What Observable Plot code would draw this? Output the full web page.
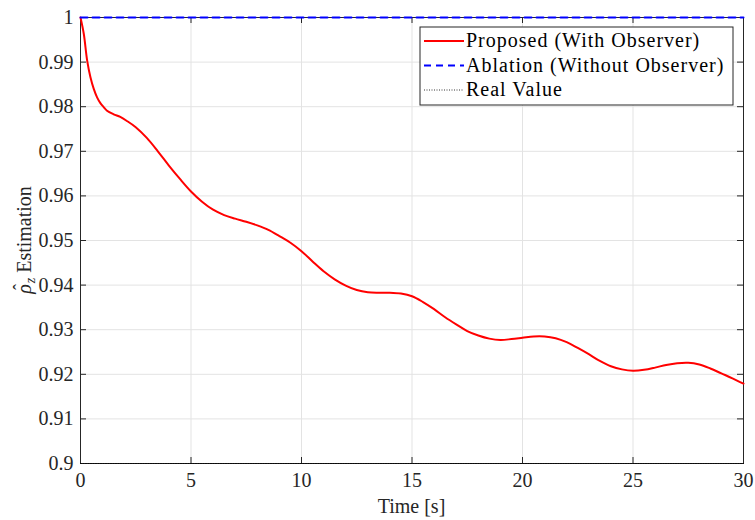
<!DOCTYPE html>
<html>
<head>
<meta charset="utf-8">
<script src="https://cdn.jsdelivr.net/npm/d3@7"></script>
<script src="https://cdn.jsdelivr.net/npm/@observablehq/plot@0.6"></script>
<style>
  html, body { margin: 0; padding: 0; background: #fff; }
  #chart { position: relative; width: 755px; height: 520px; }
</style>
</head>
<body>
<div id="chart"></div>
<script>
// ---- data ----
const time = [0, 0.15, 0.3, 0.45, 0.6, 0.75, 0.9, 1.05, 1.2, 1.5, 1.8, 2.1, 2.5, 3, 3.5, 4, 4.5, 5, 5.5, 6, 6.5, 7, 7.5, 8, 8.5, 9, 9.5, 10, 10.5, 11, 11.5, 12, 12.5, 13, 13.5, 14, 14.5, 15, 15.5, 16, 16.5, 17, 17.5, 18, 18.5, 19, 19.5, 20, 20.5, 21, 21.5, 22, 22.5, 23, 23.5, 24, 24.5, 25, 25.5, 26, 26.5, 27, 27.5, 28, 28.5, 29, 29.5, 30];
const proposed = [1.0, 0.9963, 0.9904, 0.9866, 0.9840, 0.9821, 0.9808, 0.9799, 0.9791, 0.9783, 0.9777, 0.9768, 0.9754, 0.9730, 0.9700, 0.9668, 0.9638, 0.9610, 0.9587, 0.9569, 0.9557, 0.9549, 0.9542, 0.9534, 0.9524, 0.9510, 0.9495, 0.9476, 0.9453, 0.9431, 0.9413, 0.9399, 0.9389, 0.9384, 0.9383, 0.9383, 0.9381, 0.9375, 0.9362, 0.9346, 0.9328, 0.9312, 0.9297, 0.9287, 0.9280, 0.9277, 0.9279, 0.9282, 0.9285, 0.9285, 0.9281, 0.9272, 0.9259, 0.9245, 0.9230, 0.9218, 0.9211, 0.9208, 0.9210, 0.9215, 0.9221, 0.9225, 0.9226, 0.9222, 0.9213, 0.9202, 0.9191, 0.9179];
const ablationTime = [0, 30];
const ablation = [1.0, 1.0];
const realTime = [0, 30];
const realValue = [0.9, 0.9];
const xTicks = [0, 5, 10, 15, 20, 25, 30];
const xTickLabels = ["0", "5", "10", "15", "20", "25", "30"];
const yTicks = [0.9, 0.91, 0.92, 0.93, 0.94, 0.95, 0.96, 0.97, 0.98, 0.99, 1.0];
const yTickLabels = ["0.9", "0.91", "0.92", "0.93", "0.94", "0.95", "0.96", "0.97", "0.98", "0.99", "1"];
const seriesNames = ["Proposed (With Observer)", "Ablation (Without Observer)", "Real Value"];
const xLabel = "Time [s]";
const yLabelMain = " Estimation";

const propData = time.map((t, i) => ({t, v: proposed[i]}));
const ablData = ablationTime.map((t, i) => ({t, v: ablation[i]}));
const realData = realTime.map((t, i) => ({t, v: realValue[i]}));

const W = 755, H = 520;
const mL = 80, mR = 12, mT = 17, mB = 57;
const innerH = H - mT - mB, innerW = W - mL - mR;
const axisColor = "#262626";
const FONT = "Liberation Serif";

const plot = Plot.plot({
  width: W, height: H,
  marginLeft: mL, marginRight: mR, marginTop: mT, marginBottom: mB,
  style: {fontFamily: FONT, fontSize: "20px", color: axisColor, background: "#fff"},
  x: {domain: [0, 30], label: null},
  y: {domain: [0.9, 1.0], label: null},
  marks: [
    Plot.gridX(xTicks, {stroke: "#e3e3e3", strokeOpacity: 1, strokeWidth: 1}),
    Plot.gridY(yTicks, {stroke: "#e3e3e3", strokeOpacity: 1, strokeWidth: 1}),
    Plot.axisX(xTicks, {tickSize: 0, tickPadding: 9, tickFormat: (d) => xTickLabels[xTicks.indexOf(d)], fill: axisColor}),
    Plot.axisY(yTicks, {tickSize: 0, tickPadding: 7, tickFormat: (d) => yTickLabels[yTicks.indexOf(d)], fill: axisColor}),
    // inward ticks on all four sides
    Plot.tickX(xTicks, {x: d => d, insetTop: innerH - 6, stroke: axisColor}),
    Plot.tickX(xTicks, {x: d => d, insetBottom: innerH - 6, stroke: axisColor}),
    Plot.tickY(yTicks, {y: d => d, insetRight: innerW - 6, stroke: axisColor}),
    Plot.tickY(yTicks, {y: d => d, insetLeft: innerW - 6, stroke: axisColor}),
    Plot.frame({stroke: axisColor, strokeWidth: 1}),
    Plot.line(realData, {x: "t", y: "v", stroke: "#000", strokeWidth: 0.8, strokeDasharray: "1,1.5"}),
    Plot.line(propData, {x: "t", y: "v", stroke: "#ff0000", strokeWidth: 2, curve: "catmull-rom"}),
    Plot.line(ablData, {x: "t", y: "v", stroke: "#0000ff", strokeWidth: 2, strokeDasharray: "7,5"})
  ]
});
document.getElementById("chart").appendChild(plot);

const svg = d3.select(plot);
// x label
svg.append("text")
  .attr("x", mL + innerW / 2).attr("y", 513)
  .attr("text-anchor", "middle")
  .attr("font-family", FONT).attr("font-size", 20).attr("fill", axisColor)
  .text(xLabel);
// y label with hat rho and subscript z
const ylg = svg.append("g").attr("transform", `translate(31,${mT + innerH / 2}) rotate(-90)`);
const yl = ylg.append("text")
  .attr("x", 0).attr("y", 0)
  .attr("text-anchor", "middle")
  .attr("font-family", FONT).attr("font-size", 20).attr("fill", axisColor);
yl.append("tspan").attr("font-style", "italic").text("\u03C1");
yl.append("tspan").attr("font-style", "italic").attr("font-size", 14).attr("dy", 4).attr("dx", 1).text("z");
yl.append("tspan").attr("dy", -4).text(yLabelMain);
// hat over rho
const ext = yl.node().getExtentOfChar(0);
ylg.append("text")
  .attr("x", ext.x + ext.width / 2 + 2).attr("y", ext.y + 13)
  .attr("text-anchor", "middle")
  .attr("font-family", FONT).attr("font-size", 18).attr("fill", axisColor)
  .text("\u02C6");

// legend
const lg = svg.append("g").attr("transform", "translate(420,27)");
lg.append("rect").attr("x", 0).attr("y", 0).attr("width", 313).attr("height", 78)
  .attr("fill", "#fff").attr("stroke", axisColor).attr("stroke-width", 1);
const styles = [
  {stroke: "#ff0000", dash: null, w: 2},
  {stroke: "#0000ff", dash: "7,5", w: 2},
  {stroke: "#000", dash: "1,1.5", w: 0.8}
];
seriesNames.forEach((name, i) => {
  const yy = 14 + i * 24.5;
  lg.append("line").attr("x1", 4).attr("x2", 44).attr("y1", yy).attr("y2", yy)
    .attr("stroke", styles[i].stroke).attr("stroke-width", styles[i].w)
    .attr("stroke-dasharray", styles[i].dash);
  lg.append("text").attr("x", 46).attr("y", yy + 6)
    .attr("text-anchor", "start")
    .attr("font-family", FONT).attr("font-size", 20).attr("fill", "#000")
    .attr("letter-spacing", 1.0)
    .text(name);
});
</script>
</body>
</html>
